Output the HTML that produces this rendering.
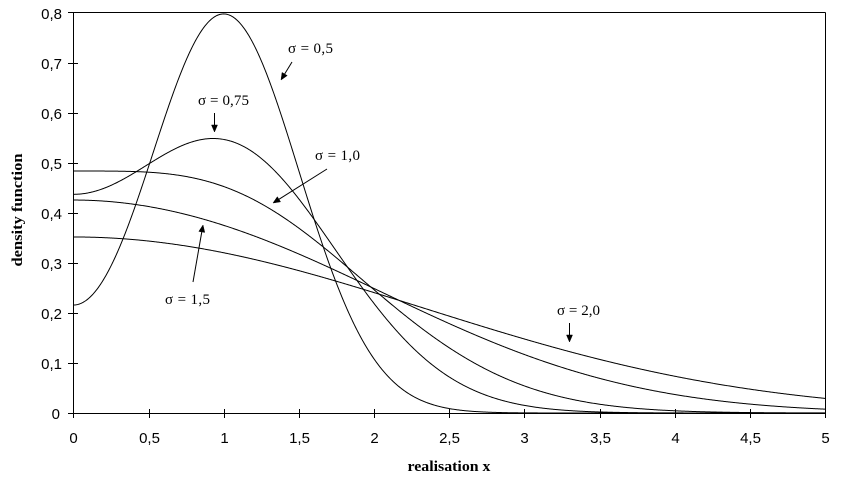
<!DOCTYPE html>
<html>
<head>
<meta charset="utf-8">
<style>
  html,body{margin:0;padding:0;background:#fff;}
  svg{display:block;}
  .tick{font-family:"Liberation Sans",Arial,sans-serif;font-size:15px;fill:#000;}
  .ann{font-family:"Liberation Serif","Times New Roman",serif;font-size:15px;fill:#000;}
  .title{font-family:"Liberation Serif","Times New Roman",serif;font-size:15px;font-weight:bold;fill:#000;}
</style>
</head>
<body>
<svg id="chart" width="850" height="500" viewBox="0 0 850 500" xmlns="http://www.w3.org/2000/svg">
  <rect x="0" y="0" width="850" height="500" fill="#fff"/>
  <g id="curves" fill="none" stroke="#000" stroke-width="1"></g>
  <g stroke="#000" stroke-width="1" shape-rendering="crispEdges" fill="none">
    <line x1="73.5" y1="12.5" x2="825.5" y2="12.5"/>
    <line x1="825.5" y1="12.5" x2="825.5" y2="413.5"/>
    <line x1="73.5" y1="12.5" x2="73.5" y2="413.5"/>
    <line x1="73.5" y1="413.5" x2="825.5" y2="413.5"/>
  </g>
  <g id="ticks" stroke="#000" stroke-width="1" shape-rendering="crispEdges"></g>
  <g id="labels"></g>

  <text class="title" x="449" y="471" text-anchor="middle" textLength="83" lengthAdjust="spacingAndGlyphs">realisation x</text>
  <text class="title" transform="translate(22,210) rotate(-90)" x="0" y="0" text-anchor="middle" textLength="113" lengthAdjust="spacingAndGlyphs">density function</text>

  <text class="ann" x="288" y="53" textLength="45" lengthAdjust="spacing">σ = 0,5</text>
  <text class="ann" x="198" y="105" textLength="51" lengthAdjust="spacing">σ = 0,75</text>
  <text class="ann" x="315" y="160" textLength="45" lengthAdjust="spacing">σ = 1,0</text>
  <text class="ann" x="165" y="304" textLength="45" lengthAdjust="spacing">σ = 1,5</text>
  <text class="ann" x="557" y="315" textLength="43" lengthAdjust="spacing">σ = 2,0</text>

  <g id="arrows" stroke="#000" stroke-width="1" fill="#000"></g>
</svg>
<script>
(function(){
  var NS="http://www.w3.org/2000/svg";
  function X(x){return 73.4+150.35*x;}
  function Y(v){return 413-500*v;}
  function phi(z){return Math.exp(-0.5*z*z)/Math.sqrt(2*Math.PI);}
  function f(x,s){return (phi((x-1)/s)+phi((x+1)/s))/s;}
  var sig=[0.5,0.75,1.0,1.5,2.0];
  var g=document.getElementById('curves');
  sig.forEach(function(s){
    var d="";
    for(var i=0;i<=1000;i++){
      var x=i*0.005;
      var px=X(x), py=Y(f(x,s));
      d+=(i?"L":"M")+px.toFixed(2)+","+py.toFixed(2);
    }
    var p=document.createElementNS(NS,"path");
    p.setAttribute("d",d);
    g.appendChild(p);
  });
  var t=document.getElementById('ticks');
  function line(x1,y1,x2,y2,par){
    var l=document.createElementNS(NS,"line");
    l.setAttribute("x1",x1);l.setAttribute("y1",y1);l.setAttribute("x2",x2);l.setAttribute("y2",y2);
    par.appendChild(l);
  }
  var lab=document.getElementById('labels');
  function text(x,y,s,anchor){
    var e=document.createElementNS(NS,"text");
    e.setAttribute("class","tick");
    e.setAttribute("x",x);e.setAttribute("y",y);
    e.setAttribute("text-anchor",anchor);
    e.textContent=s;
    lab.appendChild(e);
  }
  for(var k=0;k<=8;k++){
    var y=Math.round(Y(k/10))+0.5;
    if(k===8) y=12.5;
    line(68,y,78,y,t);
    var s=(k===0)?"0":("0,"+k);
    text(k===0?60:62,Math.round(Y(k/10))+6,s,"end");
  }
  var xl=["0","0,5","1","1,5","2","2,5","3","3,5","4","4,5","5"];
  for(var j=0;j<=10;j++){
    var x=Math.round(X(j*0.5))+0.5;
    if(j===10) x=825.5;
    line(x,409,x,418,t);
    text(x,443,xl[j],"middle");
  }
  var a=document.getElementById('arrows');
  function arrow(x1,y1,x2,y2){
    var dx=x2-x1, dy=y2-y1, L=Math.sqrt(dx*dx+dy*dy);
    var ux=dx/L, uy=dy/L;
    var hl=7, hw=3;
    var bx=x2-ux*hl, by=y2-uy*hl;
    line(x1,y1,bx,by,a);
    var p=document.createElementNS(NS,"polygon");
    p.setAttribute("points",x2+","+y2+" "+(bx-uy*hw)+","+(by+ux*hw)+" "+(bx+uy*hw)+","+(by-ux*hw));
    p.setAttribute("stroke-width","0.5");
    a.appendChild(p);
  }
  arrow(292,62,281,80);
  arrow(327,169,273,203);
  arrow(214.5,113,214.5,132);
  arrow(193,282,203,225);
  arrow(569.5,323,569.5,342);
})();
</script>
</body>
</html>
